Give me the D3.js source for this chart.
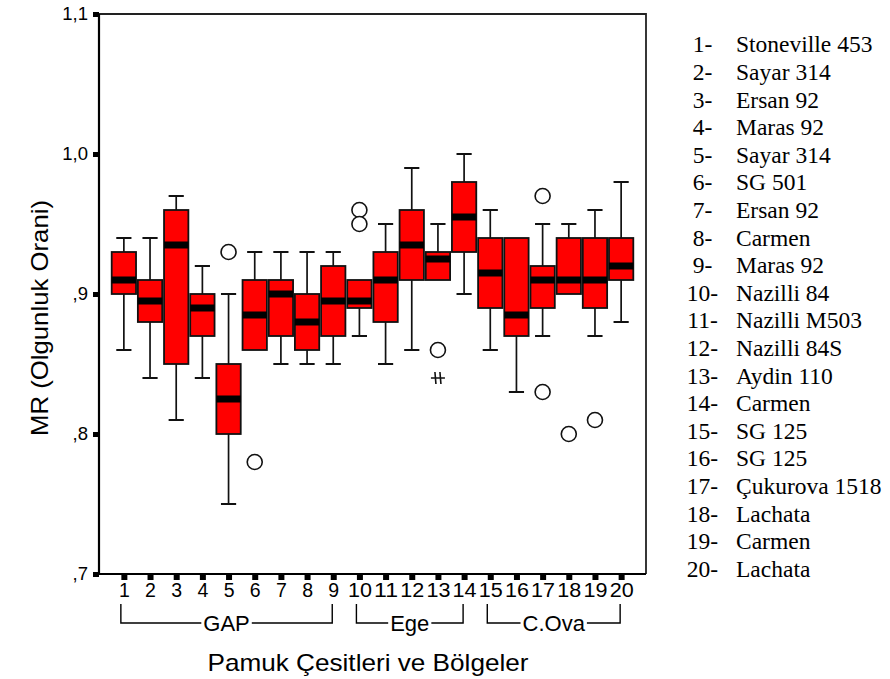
<!DOCTYPE html>
<html>
<head>
<meta charset="utf-8">
<script src="https://cdn.jsdelivr.net/npm/d3@7"></script>
<style>
  body { margin: 0; background: #fff; }
  svg { display: block; }
</style>
</head>
<body>
<svg id="chart" width="890" height="679"></svg>
<script>
// Cotton varieties (numbered) and their maturity ratio (MR) distributions
const categories = d3.range(1, 21).map(String);
const whiskerLow  = [0.86, 0.84, 0.81, 0.84, 0.75, 0.86, 0.85, 0.85, 0.85, 0.87, 0.85, 0.86, 0.91, 0.90, 0.86, 0.83, 0.87, 0.90, 0.87, 0.88];
const q1          = [0.90, 0.88, 0.85, 0.87, 0.80, 0.86, 0.87, 0.86, 0.87, 0.89, 0.88, 0.91, 0.91, 0.93, 0.89, 0.87, 0.89, 0.90, 0.89, 0.91];
const median      = [0.91, 0.895, 0.935, 0.89, 0.825, 0.885, 0.90, 0.88, 0.895, 0.895, 0.91, 0.935, 0.925, 0.955, 0.915, 0.885, 0.91, 0.91, 0.91, 0.92];
const q3          = [0.93, 0.91, 0.96, 0.90, 0.85, 0.91, 0.91, 0.90, 0.92, 0.91, 0.93, 0.96, 0.93, 0.98, 0.94, 0.94, 0.92, 0.94, 0.94, 0.94];
const whiskerHigh = [0.94, 0.94, 0.97, 0.92, 0.90, 0.93, 0.93, 0.93, 0.93, 0.91, 0.95, 0.99, 0.95, 1.00, 0.96, 0.94, 0.95, 0.95, 0.96, 0.98];
// Outliers (circles) and extreme values (asterisks), per variety
const outliers = [[], [], [], [], [0.93], [0.78], [], [], [], [0.96, 0.95], [], [], [0.86], [], [], [], [0.97, 0.83], [0.80], [0.81], []];
const extremes = [[], [], [], [], [], [], [], [], [], [], [], [], [0.84], [], [], [], [], [], [], []];

const yTicks = [0.7, 0.8, 0.9, 1.0, 1.1];
const yTickLabels = [",7", ",8", ",9", "1,0", "1,1"];

// Regions grouping the varieties along the x axis
const regions     = ["GAP", "Ege", "C.Ova"];
const regionFirst = ["1", "10", "15"];
const regionLast  = ["9", "14", "20"];

// Variety names listed beside the chart
const varieties = ["Stoneville 453", "Sayar 314", "Ersan 92", "Maras 92", "Sayar 314", "SG 501", "Ersan 92",
  "Carmen", "Maras 92", "Nazilli 84", "Nazilli M503", "Nazilli 84S", "Aydin 110", "Carmen", "SG 125", "SG 125",
  "Çukurova 1518", "Lachata", "Carmen", "Lachata"];

const yTitle = "MR (Olgunluk Orani)";
const xTitle = "Pamuk Çesitleri ve Bölgeler";

// ---------------------------------------------------------------
const svg = d3.select("#chart");
const plot = { left: 99, right: 646, top: 14, bottom: 574 };
const sans = "'Liberation Sans', Arial, sans-serif";
const serif = "'Liberation Serif', 'Times New Roman', serif";

const x = d3.scalePoint().domain(categories).range([plot.left, plot.right]).padding(0.95);
const y = d3.scaleLinear().domain([0.7, 1.1]).range([plot.bottom, plot.top]);
const step = x.step();
const boxW = step * 0.93;
const capW = step * 0.58;

// frame (top and right) and axes (left and bottom)
svg.append("path")
  .attr("d", `M${plot.left},${plot.top}H${plot.right}V${plot.bottom}`)
  .attr("fill", "none").attr("stroke", "#222").attr("stroke-width", 1.8);

// y axis
const yAxis = svg.append("g")
  .attr("transform", `translate(${plot.left},0)`)
  .call(d3.axisLeft(y).tickValues(yTicks).tickSize(0).tickPadding(11)
    .tickFormat((d, i) => yTickLabels[i]));
yAxis.select(".domain").remove();
yAxis.selectAll(".tick text")
  .attr("font-family", sans).attr("font-size", 18.5).attr("fill", "#000");
yAxis.selectAll(".tick").append("rect")
  .attr("x", -6).attr("y", -2.5).attr("width", 6).attr("height", 5).attr("fill", "#000");

// x axis
const xAxis = svg.append("g")
  .attr("transform", `translate(0,${plot.bottom})`)
  .call(d3.axisBottom(x).tickSize(0));
xAxis.select(".domain").remove();
xAxis.selectAll(".tick text")
  .attr("font-family", sans).attr("font-size", 19.5).attr("fill", "#000")
  .attr("y", 23).attr("dy", null)
  .attr("textLength", d => d.length > 1 ? 24 : null)
  .attr("lengthAdjust", "spacingAndGlyphs");
xAxis.selectAll(".tick").append("rect")
  .attr("x", -3).attr("y", 1).attr("width", 6).attr("height", 5).attr("fill", "#000");

svg.append("path")
  .attr("d", `M${plot.left},${plot.top}V${plot.bottom}H${plot.right}`)
  .attr("fill", "none").attr("stroke", "#000").attr("stroke-width", 2.2);

// box plots
const boxes = svg.append("g").selectAll("g").data(categories).join("g")
  .attr("transform", d => `translate(${x(d)},0)`);

boxes.each(function (d, i) {
  const g = d3.select(this);
  const whisker = (from, to) => {
    if (from === to) return;
    g.append("line").attr("x1", 0).attr("x2", 0).attr("y1", y(from)).attr("y2", y(to))
      .attr("stroke", "#111").attr("stroke-width", 1.7);
    g.append("line").attr("x1", -capW / 2).attr("x2", capW / 2).attr("y1", y(to)).attr("y2", y(to))
      .attr("stroke", "#111").attr("stroke-width", 2);
  };
  whisker(q3[i], whiskerHigh[i]);
  whisker(q1[i], whiskerLow[i]);
  g.append("rect")
    .attr("x", -boxW / 2).attr("width", boxW)
    .attr("y", y(q3[i])).attr("height", y(q1[i]) - y(q3[i]))
    .attr("fill", "#ff0000").attr("stroke", "#111").attr("stroke-width", 1.8);
  g.append("rect")
    .attr("x", -boxW / 2).attr("width", boxW)
    .attr("y", y(median[i]) - 3.5).attr("height", 7)
    .attr("fill", "#000");
  outliers[i].forEach(v => {
    g.append("circle").attr("cx", 0).attr("cy", y(v)).attr("r", 7.5)
      .attr("fill", "#fff").attr("stroke", "#111").attr("stroke-width", 1.6);
  });
  extremes[i].forEach(v => {
    const cy = y(v);
    g.append("path")
      .attr("d", `M-7,${cy}H7M-3,${cy - 6}L-2,${cy + 6}M2,${cy - 6}L3,${cy + 6}`)
      .attr("fill", "none").attr("stroke", "#111").attr("stroke-width", 1.6);
  });
});

// region brackets under the axis labels
const bracketY = 623, bracketTop = 604;
regions.forEach((name, i) => {
  const x0 = x(regionFirst[i]) - 3;
  const x1 = x(regionLast[i]) - 1;
  const mid = (x0 + x1) / 2;
  const label = svg.append("text")
    .attr("x", mid).attr("y", bracketY + 8)
    .attr("text-anchor", "middle")
    .attr("font-family", sans).attr("font-size", 22).attr("fill", "#000")
    .text(name);
  const w = label.node().getComputedTextLength();
  svg.append("path")
    .attr("d", `M${x0},${bracketTop}V${bracketY}H${mid - w / 2 - 2}M${mid + w / 2 + 2},${bracketY}H${x1}V${bracketTop}`)
    .attr("fill", "none").attr("stroke", "#000").attr("stroke-width", 1.4);
});

// axis titles
svg.append("text")
  .attr("transform", "translate(48,318) rotate(-90)")
  .attr("text-anchor", "middle")
  .attr("font-family", sans).attr("font-size", 24).attr("fill", "#000")
  .attr("textLength", 236).attr("lengthAdjust", "spacingAndGlyphs")
  .text(yTitle);

svg.append("text")
  .attr("x", 368).attr("y", 671)
  .attr("text-anchor", "middle")
  .attr("font-family", sans).attr("font-size", 24).attr("fill", "#000")
  .attr("textLength", 321).attr("lengthAdjust", "spacingAndGlyphs")
  .text(xTitle);

// numbered list of varieties
const legend = svg.append("g").selectAll("g").data(varieties).join("g")
  .attr("transform", (d, i) => `translate(0,${52.3 + i * 27.6})`);
legend.append("text")
  .attr("x", 702.5).attr("text-anchor", "middle")
  .attr("font-family", serif).attr("font-size", 23.5).attr("fill", "#000")
  .text((d, i) => `${i + 1}-`);
legend.append("text")
  .attr("x", 736)
  .attr("font-family", serif).attr("font-size", 23.5).attr("fill", "#000")
  .text(d => d);
</script>
</body>
</html>
